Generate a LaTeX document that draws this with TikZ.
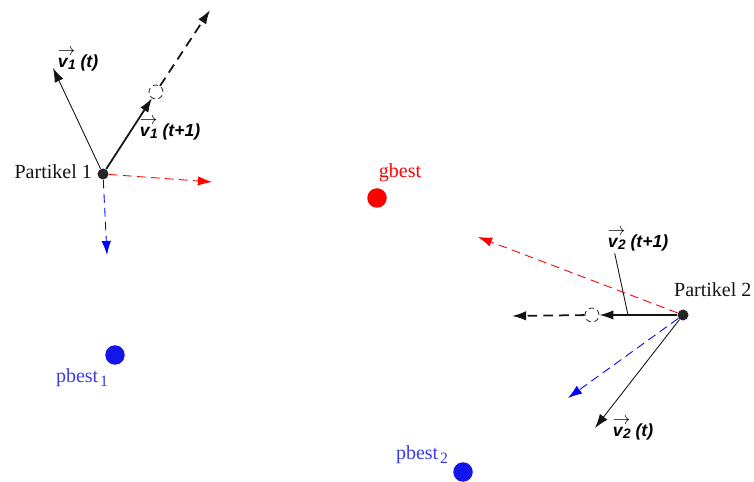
\documentclass[tikz,border=0pt]{standalone}
\usepackage{fontspec}
\setmainfont{Liberation Serif}
\setsansfont{Liberation Sans}
\usetikzlibrary{arrows.meta}
\definecolor{figline}{RGB}{20,20,20}
\definecolor{figred}{RGB}{255,0,0}
\definecolor{figblue}{RGB}{20,20,235}
\definecolor{figtext}{RGB}{60,60,230}
\newcommand{\velo}[2]{\ooalign{\hbox{v\kern0.3pt\raisebox{-0.25ex}{\fontsize{7.8}{8}\selectfont #1}}\cr
  \raisebox{1.25ex}{$\rightarrow$}}\ #2}
\tikzset{
  tip/.style   ={-{Latex[length=8pt,width=5.4pt]}},
  vel/.style   ={draw=figline, line width=0.5pt, tip},
  velnew/.style={draw=figline, line width=1pt, tip},
  velnext/.style={draw=figline, line width=1pt, dash pattern=on 5.5pt off 3.5pt, tip},
  pull/.style  ={line width=0.5pt, dash pattern=on 5pt off 3pt, tip},
  part/.style  ={circle, fill=black!85, inner sep=0pt, minimum size=0.22cm},
  ghost/.style ={circle, draw=figline, densely dashed, line width=0.4pt, fill=white, inner sep=0pt, minimum size=0.28cm},
  best/.style  ={circle, inner sep=0pt, minimum size=0.39cm},
  lab/.style   ={font=\fontsize{11.4}{13}\selectfont, inner sep=1pt},
  vlab/.style  ={font=\sffamily\bfseries\itshape\fontsize{10}{11}\selectfont, inner sep=1pt},
  leader/.style={draw=figline, line width=0.5pt},
}
\begin{document}
\begin{tikzpicture}[x=0.02cm,y=-0.02cm]
  \useasboundingbox (0,0) rectangle (754,482);
  % particles and best positions
  \node[part] (p1) at (103,174) {};
  \node[part] (p2) at (683,315) {};
  \node[best,fill=figred] (g) at (377,198) {};
  \node[best,fill=figblue] (pb1) at (115,355) {};
  \node[best,fill=figblue] (pb2) at (463,472) {};
  \node[ghost] (c1) at (156,92) {};
  \node[ghost] (c2) at (592,315) {};
  % arrow ends
  \coordinate (v1t) at (53,68);
  \coordinate (v1n) at (210,10);
  \coordinate (r1) at (212,182);
  \coordinate (b1) at (107,255);
  \coordinate (v2t) at (595,428);
  \coordinate (v2n) at (512,316);
  \coordinate (r2) at (478,237);
  \coordinate (b2) at (568,398);
  \coordinate (k2) at (628,315);
  % particle 1
  \draw[vel] (p1) -- (v1t);
  \draw[velnew] (p1) -- (c1);
  \draw[velnext] (c1) -- (v1n);
  \draw[pull,figred] (p1) -- (r1);
  \draw[pull,blue] (p1) -- (b1);
  % particle 2
  \draw[vel] (p2) -- (v2t);
  \draw[velnew] (p2) -- (c2);
  \draw[velnext] (c2) -- (v2n);
  \draw[pull,figred] (p2) -- (r2);
  \draw[pull,blue] (p2) -- (b2);
  % labels
  \node[lab,anchor=east,figline] (l1) at (94,172) {Partikel 1};
  \node[lab,anchor=west,figline] (l2) at (672,290) {Partikel 2};
  \node[lab,figred] (lg) at (400,173) {gbest};
  \node[lab,figtext] (lpb1) at (82,378) {pbest\kern1pt\raisebox{-0.35ex}{\fontsize{9}{10}\selectfont 1}};
  \node[lab,figtext] (lpb2) at (422,455) {pbest\kern1pt\raisebox{-0.35ex}{\fontsize{9}{10}\selectfont 2}};
  \node[vlab] (lv1) at (78,63) {\velo{1}{(t)}};
  \node[vlab] (lv1n) at (170,132) {\velo{1}{(t+1)}};
  \node[vlab] (lv2) at (633,432) {\velo{2}{(t)}};
  \node[vlab] (lv2n) at (638,243) {\velo{2}{(t+1)}};
  \draw[leader] ([xshift=0.18cm]lv2n.south west) -- (k2);
\end{tikzpicture}
\end{document}
